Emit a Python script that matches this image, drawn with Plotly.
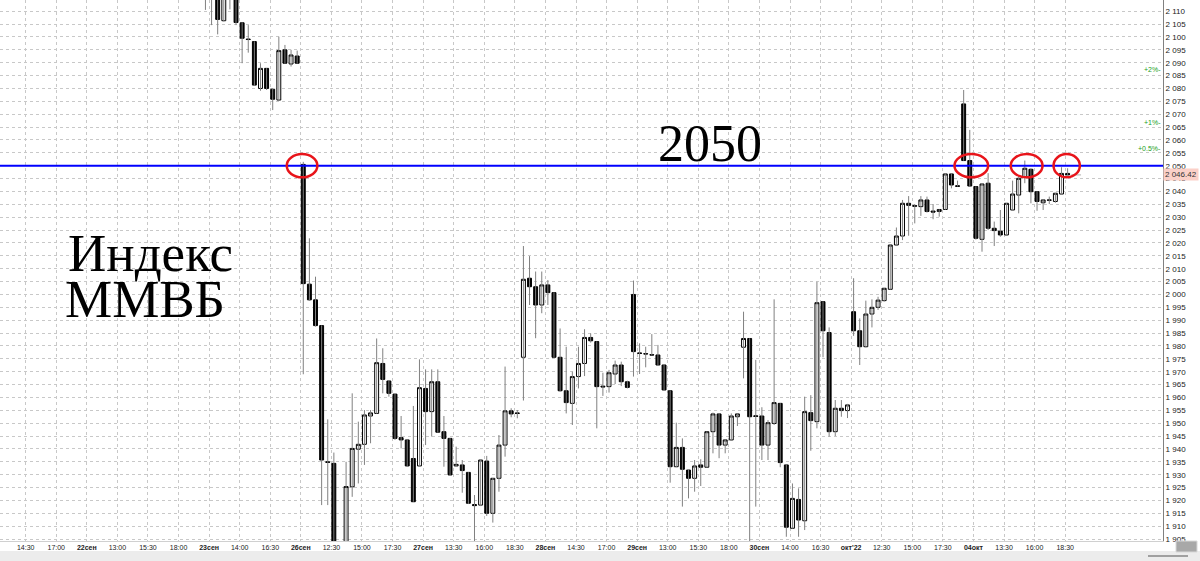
import plotly.graph_objects as go

# 30-minute candles, index 0 = 14:30 21 Sep; first visible candle is index 29
FIRST_IDX = 29
OPEN = [
    2125, 2122, 2118, 2106.3, 2117, 2118, 2105.5, 2099.2, 2098.2, 2080.0,
    2087.8, 2079.7, 2075.5, 2095.0, 2089.5, 2092.6, 2050.5, 2004.0, 1997.9, 1987.9,
    1935.0, 1934.4, 1896.0, 1890.0, 1925.3, 1939.9, 1941.8, 1952.8, 1953.8, 1973.2,
    1966.4, 1961.3, 1944.4, 1943.5, 1936.3, 1933.4, 1963.5, 1954.5, 1966.1, 1946.7,
    1944.1, 1933.4, 1933.8, 1930.9, 1918.4, 1918.2, 1935.3, 1915.0, 1928.6, 1941.5,
    1954.8, 1954.0, 1975.6, 2006.3, 2003.0, 1995.9, 2003.7, 2000.7, 1975.6, 1962.6,
    1957.7, 1968.1, 1973.2, 1983.3, 1981.7, 1964.4, 1964.2, 1969.1, 1972.6, 1966.1,
    2000.0, 1977.3, 1977.0, 1976.6, 1976.5, 1972.6, 1962.6, 1933.1, 1940.6, 1931.8,
    1928.6, 1933.8, 1932.9, 1946.7, 1953.6, 1941.5, 1943.5, 1952.5, 1979.5, 1982.9,
    1952.9, 1952.8, 1941.5, 1949.9, 1957.7, 1933.8, 1909.2, 1920.4, 1912.1, 1954.1,
    1950.6, 1997.2, 1985.2, 1946.7, 1955.8, 1954.9, 1993.3, 1985.9, 1979.7, 1992.4,
    1995.0, 1997.6, 2002.0, 2019.2, 2022.7, 2035.4, 2034.5, 2034.1, 2036.7, 2032.4,
    2032.2, 2033.0, 2046.8, 2042.2, 2074.0, 2052.0, 2041.9, 2021.4, 2043.2, 2025.7,
    2024.6, 2023.1, 2032.8, 2038.6, 2045.7, 2048.6, 2039.9, 2035.6, 2036.7, 2036.1,
    2039.0, 2047.0,
]
HIGH = [
    2128, 2126, 2120, 2119, 2121, 2119, 2105.6, 2104.6, 2098.3, 2089.8,
    2087.9, 2079.8, 2100.1, 2096.9, 2095.0, 2094.7, 2051.5, 2021.8, 2006.9, 1988.0,
    1951.5, 1938.6, 1901.0, 1935.0, 1961.6, 1950.6, 1955.1, 1955.1, 1982.9, 1979.1,
    1966.5, 1961.4, 1952.8, 1943.6, 1956.7, 1974.8, 1970.9, 1970.9, 1970.9, 1952.8,
    1944.2, 1940.9, 1935.7, 1931.0, 1922.1, 1935.8, 1937.3, 1928.7, 1945.4, 1972.0,
    1955.8, 1955.1, 2018.8, 2014.9, 2008.9, 2008.9, 2005.6, 2000.8, 1986.8, 1979.7,
    1970.0, 1979.7, 1986.5, 1984.9, 1981.8, 1969.6, 1970.7, 1974.3, 1973.9, 1966.5,
    2005.4, 1981.0, 1979.7, 1984.6, 1980.4, 1972.7, 1962.7, 1950.2, 1944.1, 1931.9,
    1935.7, 1936.0, 1946.8, 1954.1, 1953.7, 1943.6, 1953.8, 1953.7, 1993.3, 1983.0,
    1974.6, 1956.2, 1951.2, 1998.1, 1957.8, 1933.9, 1926.6, 1924.7, 1960.3, 1960.9,
    2004.9, 1997.3, 1987.2, 1959.0, 1959.0, 1957.5, 2006.3, 1990.7, 1997.6, 1998.1,
    1999.1, 2002.5, 2019.3, 2026.0, 2036.7, 2038.2, 2035.1, 2038.2, 2038.0, 2035.1,
    2033.1, 2047.1, 2046.9, 2044.2, 2079.4, 2063.9, 2042.0, 2043.0, 2047.1, 2028.3,
    2032.8, 2035.5, 2044.2, 2046.4, 2052.0, 2049.0, 2040.0, 2036.8, 2038.0, 2039.4,
    2049.4, 2049.0,
]
LOW = [
    2110.5, 2104.6, 2101.0, 2106.0, 2110.7, 2104.6, 2089.8, 2093.9, 2081.0, 2079.1,
    2079.4, 2071.6, 2075.4, 2089.7, 2088.5, 2089.7, 1969.0, 1997.5, 1987.5, 1918.2,
    1918.2, 1893.0, 1885.0, 1887.0, 1921.4, 1926.6, 1933.8, 1942.2, 1953.7, 1961.6,
    1960.3, 1943.5, 1940.2, 1933.1, 1919.5, 1933.3, 1941.5, 1944.8, 1946.4, 1933.1,
    1929.5, 1933.3, 1923.0, 1918.6, 1902.0, 1917.8, 1914.0, 1911.4, 1923.4, 1937.0,
    1952.3, 1951.9, 1958.8, 1995.9, 1983.0, 1992.7, 1995.9, 1975.5, 1962.2, 1953.8,
    1949.3, 1963.5, 1968.3, 1981.3, 1948.0, 1960.6, 1961.9, 1965.2, 1964.4, 1963.5,
    1968.1, 1969.1, 1971.7, 1976.4, 1972.4, 1962.6, 1926.9, 1932.9, 1917.6, 1920.8,
    1923.4, 1925.6, 1932.8, 1938.3, 1936.4, 1938.3, 1943.2, 1948.9, 1967.4, 1900.0,
    1917.6, 1935.7, 1935.7, 1949.3, 1932.9, 1905.9, 1909.1, 1905.9, 1908.5, 1939.3,
    1948.0, 1975.6, 1944.8, 1945.0, 1952.5, 1952.0, 1983.9, 1972.6, 1979.4, 1987.2,
    1994.0, 1997.2, 2001.9, 2018.8, 2021.1, 2022.8, 2027.6, 2030.5, 2031.8, 2029.2,
    2030.2, 2032.9, 2041.2, 2041.9, 2051.9, 2042.0, 2021.3, 2016.6, 2025.0, 2018.8,
    2022.4, 2022.7, 2032.7, 2031.5, 2043.2, 2035.4, 2032.5, 2032.8, 2035.1, 2035.6,
    2038.9, 2046.3,
]
CLOSE = [
    2120, 2118, 2106.8, 2117, 2118, 2105.6, 2099.5, 2099.0, 2081.3, 2087.8,
    2080.0, 2075.8, 2094.7, 2089.8, 2093.0, 2089.8, 2004.2, 1997.9, 1987.9, 1935.7,
    1934.8, 1896.0, 1890.0, 1925.4, 1940.2, 1941.8, 1953.2, 1954.0, 1973.5, 1967.0,
    1961.6, 1944.1, 1943.5, 1933.4, 1919.5, 1963.8, 1954.5, 1966.1, 1946.5, 1944.1,
    1929.9, 1934.0, 1931.6, 1918.9, 1918.0, 1935.7, 1915.0, 1928.6, 1941.5, 1954.8,
    1953.6, 1953.8, 2005.9, 2003.0, 1995.9, 2003.7, 2000.7, 1975.6, 1962.6, 1958.0,
    1968.1, 1973.2, 1983.3, 1982.0, 1964.2, 1964.1, 1969.6, 1972.6, 1966.1, 1963.9,
    1977.8, 1977.1, 1976.9, 1976.5, 1972.6, 1962.9, 1933.1, 1940.6, 1932.1, 1928.6,
    1933.4, 1932.9, 1946.7, 1953.6, 1941.5, 1943.5, 1952.8, 1953.6, 1982.9, 1952.5,
    1952.6, 1941.5, 1950.2, 1958.0, 1934.7, 1909.6, 1920.8, 1912.4, 1954.5, 1951.0,
    1996.8, 1985.9, 1946.7, 1955.8, 1954.9, 1957.1, 1985.9, 1979.7, 1992.4, 1995.0,
    1997.8, 2002.4, 2019.2, 2022.7, 2035.4, 2034.6, 2034.3, 2036.7, 2032.2, 2032.0,
    2033.0, 2046.8, 2042.5, 2042.0, 2052.0, 2042.1, 2021.8, 2042.9, 2025.7, 2024.8,
    2023.1, 2035.4, 2039.0, 2045.1, 2049.0, 2039.9, 2036.1, 2036.7, 2036.6, 2039.3,
    2047.0, 2046.42,
]

TICK_LABELS = [
    "14:30", "17:00", "<b>22сен</b>", "13:00", "15:30", "18:00", "<b>23сен</b>",
    "14:00", "16:30", "<b>26сен</b>", "12:30", "15:00", "17:30", "<b>27сен</b>",
    "13:30", "16:00", "18:30", "<b>28сен</b>", "14:30", "17:00", "<b>29сен</b>",
    "13:00", "15:30", "18:00", "<b>30сен</b>", "14:00", "16:30", "<b>окт'22</b>",
    "12:30", "15:00", "17:30", "<b>04окт</b>", "13:30", "16:00", "18:30",
]
TICK_STEP = 5  # candles between labels

LEVEL = 2050
LAST = CLOSE[-1]
PCT_LEVELS = [2, 1, 0.5]
# candle index spans circled on the 2050 line
CIRCLES = [(42.3, 47.3), (151.5, 157.0), (160.7, 165.9), (167.7, 172.0)]

PW, PH = 1163, 541  # plot area in pixels

x = list(range(FIRST_IDX, FIRST_IDX + len(OPEN)))
body_hi = [max(o, c) for o, c in zip(OPEN, CLOSE)]
body_lo = [min(o, c) for o, c in zip(OPEN, CLOSE)]

wick_x, wick_y = [], []
for xi, lo, hi in zip(x, LOW, HIGH):
    wick_x += [xi, xi, None]
    wick_y += [lo, hi, None]

fig = go.Figure()
fig.add_trace(go.Scatter(x=wick_x, y=wick_y, mode="lines",
                         line=dict(color="#808080", width=1), hoverinfo="skip"))
fig.add_trace(go.Candlestick(
    x=x, open=OPEN, high=body_hi, low=body_lo, close=CLOSE,
    increasing=dict(fillcolor="white", line=dict(color="black", width=1)),
    decreasing=dict(fillcolor="black", line=dict(color="black", width=1)),
    whiskerwidth=0,
))

shapes = [
    # white boxes behind the big captions
    dict(type="rect", xref="paper", yref="paper", x0=40 / PW, x1=265 / PW,
         y0=1 - 348 / PH, y1=1 - 212 / PH, fillcolor="white", line_width=0, layer="between"),
    dict(type="rect", xref="paper", yref="paper", x0=637 / PW, x1=772 / PW,
         y0=1 - 158 / PH, y1=1 - 100 / PH, fillcolor="white", line_width=0, layer="between"),
    # level line
    dict(type="line", xref="paper", yref="y", x0=0, x1=1, y0=LEVEL, y1=LEVEL,
         line=dict(color="#0000ff", width=2)),
    # bottom grey strip and scroll thumb
    dict(type="rect", xref="paper", yref="paper", x0=-0.01, x1=1.05,
         y0=-21 / PH, y1=-10 / PH, fillcolor="#ececec", line_width=0),
    dict(type="rect", xref="paper", yref="paper", x0=1176 / PW, x1=1197 / PW,
         y0=-11 / PH, y1=0, fillcolor="#a8a8a8", line=dict(color="#d8d8d8", width=1)),
    dict(type="line", xref="paper", yref="paper", x0=1148 / PW, x1=1188 / PW,
         y0=-15 / PH, y1=-15 / PH, line=dict(color="#a0a0a0", width=2)),
    # last price marker
    dict(type="line", xref="x", yref="y", x0=x[-1] + 0.6, x1=x[-1] + 2.2, y0=LAST, y1=LAST,
         line=dict(color="#b0b0b0", width=1)),
]
for x0, x1 in CIRCLES:
    shapes.append(dict(type="circle", xref="x", yref="y", x0=x0, x1=x1,
                       y0=LEVEL - 4.5, y1=LEVEL + 4.5,
                       line=dict(color="#e8141a", width=2.5)))

serif = "Liberation Serif"
annotations = [
    dict(text="Индекс", xref="paper", yref="paper", x=150 / PW, y=1 - 253 / PH,
         xanchor="center", yanchor="middle", showarrow=False,
         font=dict(family=serif, size=53, color="black")),
    dict(text="ММВБ", xref="paper", yref="paper", x=145 / PW, y=1 - 299 / PH,
         xanchor="center", yanchor="middle", showarrow=False,
         font=dict(family=serif, size=53, color="black")),
    dict(text="2050", xref="paper", yref="paper", x=710 / PW, y=1 - 143 / PH,
         xanchor="center", yanchor="middle", showarrow=False,
         font=dict(family=serif, size=52, color="black")),
    dict(text="2 046.42", xref="paper", yref="y", x=1, y=LAST, xanchor="left", yanchor="middle",
         showarrow=False, bgcolor="#fbd0c8", borderpad=1,
         font=dict(family="Liberation Sans", size=8, color="#333333")),
]
for p in PCT_LEVELS:
    annotations.append(dict(text=f"+{p:g}%-", xref="paper", yref="y", x=1, y=LAST * (1 + p / 100),
                            xanchor="right", yanchor="middle", showarrow=False,
                            font=dict(family="Liberation Sans", size=7, color="#22a022")))

fig.update_layout(
    width=1200, height=561,
    margin=dict(l=0, r=1200 - PW, t=0, b=561 - PH),
    paper_bgcolor="white", plot_bgcolor="white",
    showlegend=False,
    separators=". ",
    boxgap=0.2, boxgroupgap=0.2,
    shapes=shapes, annotations=annotations,
    xaxis=dict(
        range=[-4.6, 185.6], rangeslider=dict(visible=False), automargin=False,
        tickvals=[TICK_STEP * k - 0.4 for k in range(len(TICK_LABELS))],
        ticktext=TICK_LABELS, tickangle=0,
        tickfont=dict(family="Liberation Sans", size=7, color="#222222"),
        showgrid=True, gridcolor="#c8c8c8", griddash="dot", gridwidth=1,
        zeroline=False, showline=True, linecolor="#d0d0d0",
    ),
    yaxis=dict(
        side="right", range=[1904.25, 2114.35], tick0=1905, dtick=5, tickformat=",d",
        automargin=False,
        tickfont=dict(family="Liberation Sans", size=8, color="#222222"),
        showgrid=True, gridcolor="#c8c8c8", griddash="dot", gridwidth=1,
        zeroline=False, showline=True, linecolor="#808080",
    ),
)

# the page body has a default 8px margin; drop it so the figure fills the window
fig.write_html("out.html", config={"displayModeBar": False},
               post_script="document.body.style.margin='0';")
